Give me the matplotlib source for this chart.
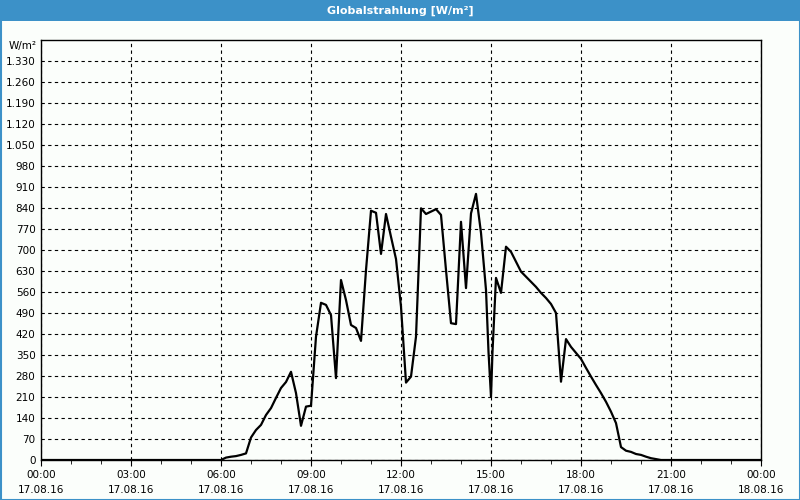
import matplotlib
matplotlib.use("Agg")
import matplotlib.pyplot as plt
import matplotlib.dates as mdates
from matplotlib.ticker import FuncFormatter, MultipleLocator
from matplotlib.patches import Rectangle
import pandas as pd

# Messzeitpunkte (17.08.16) und Globalstrahlung in W/m²
zeiten = ["00:00", "06:00", "06:10", "06:20", "06:30", "06:40", "06:50",
          "07:00", "07:10", "07:20", "07:30", "07:40", "07:50",
          "08:00", "08:10", "08:20", "08:30", "08:40", "08:50",
          "09:00", "09:10", "09:20", "09:30", "09:40", "09:50",
          "10:00", "10:10", "10:20", "10:30", "10:40", "10:50",
          "11:00", "11:10", "11:20", "11:30", "11:40", "11:50",
          "12:00", "12:10", "12:20", "12:30", "12:40", "12:50",
          "13:00", "13:10", "13:20", "13:30", "13:40", "13:50",
          "14:00", "14:10", "14:20", "14:30", "14:40", "14:50", "14:55",
          "15:00", "15:03", "15:10", "15:20", "15:30", "15:40", "15:50",
          "16:00", "16:10", "16:20", "16:30", "16:40", "16:50",
          "17:00", "17:10", "17:20", "17:30", "17:40", "17:50",
          "18:00", "18:10", "18:20", "18:30", "18:40", "18:50",
          "19:00", "19:10", "19:20", "19:30", "19:40", "19:50",
          "20:00", "20:10", "20:20", "20:30", "20:40"]
werte = [0, 0, 8, 11, 13, 17, 22,
         75, 100, 117, 150, 173, 207,
         240, 260, 294, 223, 114, 178,
         181, 411, 524, 517, 483, 273,
         600, 533, 450, 440, 397, 633,
         831, 824, 687, 820, 744, 670,
         511, 258, 278, 411, 839, 820,
         828, 836, 817, 633, 456, 453,
         794, 573, 822, 887, 757, 567, 361,
         210, 361, 607, 557, 711, 694, 661,
         628, 611, 594, 577, 557, 540,
         520, 490, 261, 403, 377, 357,
         337, 307, 278, 250, 223, 194,
         161, 123, 43, 31, 27, 20,
         17, 11, 6, 3, 0]
ende = "2016-08-18 00:00"

t = list(pd.to_datetime(["2016-08-17 " + z for z in zeiten])) + [pd.Timestamp(ende)]
v = werte + [0]

blau = "#3c91c8"
fig = plt.figure(figsize=(8, 5), dpi=100)
fig.patch.set_facecolor("#fbfefb")

# Titelleiste und Rahmen
fig.patches.append(Rectangle((0, 1 - 21 / 500), 1, 21 / 500, transform=fig.transFigure,
                             facecolor=blau, edgecolor="none", zorder=0))
fig.patches.append(Rectangle((0.5 / 800, 0.5 / 500), 1 - 1 / 800, 1 - 1 / 500,
                             transform=fig.transFigure, facecolor="none",
                             edgecolor=blau, linewidth=1.5, zorder=0))
fig.text(0.5, 1 - 10.5 / 500, "Globalstrahlung [W/m²]", color="white",
         fontsize=8, fontweight="bold", ha="center", va="center")

ax = fig.add_axes([41 / 800, 40 / 500, 720 / 800, 420 / 500])
ax.set_facecolor("#fbfefb")
ax.plot(t, v, color="black", linewidth=1.6)

ax.set_xlim(pd.Timestamp("2016-08-17 00:00"), pd.Timestamp(ende))
ax.set_ylim(0, 1400)
ax.set_yticks(range(0, 1331, 70))
ax.yaxis.set_major_formatter(FuncFormatter(lambda y, p: f"{int(y):,}".replace(",", ".")))

ax.xaxis.set_major_locator(mdates.HourLocator(byhour=range(0, 24, 3)))
ax.xaxis.set_minor_locator(mdates.HourLocator())
ax.xaxis.set_major_formatter(mdates.DateFormatter("%H:%M\n%d.%m.%y"))

ax.grid(True, which="major", color="black", linestyle=(0, (3, 3)), linewidth=0.8)
ax.tick_params(axis="y", length=0, pad=4, labelsize=7.5)
ax.tick_params(axis="x", which="major", length=4, labelsize=7.5, pad=3)
ax.tick_params(axis="x", which="minor", length=3)
for s in ax.spines.values():
    s.set_color("black")
    s.set_linewidth(1.0)
for lbl in ax.get_xticklabels():
    lbl.set_linespacing(1.6)

ax.text(-4 / 720, 1380, "W/m²", transform=ax.get_yaxis_transform(),
        ha="right", va="center", fontsize=7.5)

fig.savefig("out.png", dpi=100, facecolor=fig.get_facecolor())
